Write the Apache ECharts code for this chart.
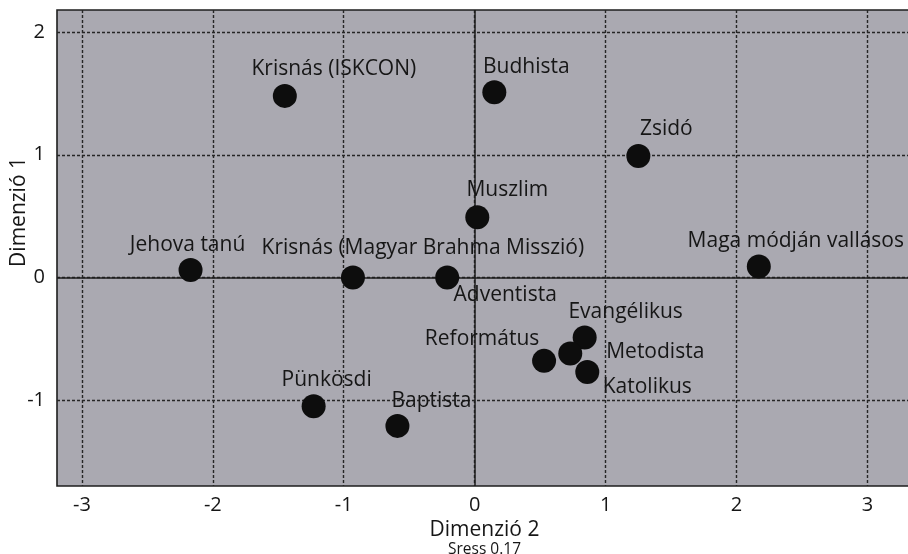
<!DOCTYPE html>
<html>
<head>
<meta charset="utf-8">
<script src="https://cdn.jsdelivr.net/npm/echarts@6/dist/echarts.min.js"></script>
<style>html,body{margin:0;padding:0;background:#fff}#c{width:908px;height:554px}</style>
</head>
<body>
<div id="c"></div>
<script>
const names = ['Krisnás (ISKCON)','Budhista','Zsidó','Muszlim','Jehova tanú','Krisnás (Magyar Brahma Misszió)','Adventista','Maga módján vallásos','Evangélikus','Metodista','Református','Katolikus','Pünkösdi','Baptista'];
const dim2 = [-1.45, 0.15, 1.25, 0.02, -2.17, -0.93, -0.21, 2.17, 0.84, 0.73, 0.53, 0.86, -1.23, -0.59];
const dim1 = [1.48, 1.51, 0.99, 0.49, 0.06, 0.00, 0.00, 0.09, -0.49, -0.62, -0.68, -0.77, -1.05, -1.21];
const xTicks = [-3, -2, -1, 0, 1, 2, 3];
const yTicks = [-1, 0, 1, 2];
const stress = 0.17;

// label placement (style only)
const labelOffsets = {
  'Krisnás (ISKCON)': [49, -27], 'Budhista': [32, -25], 'Zsidó': [28, -27], 'Muszlim': [30, -27],
  'Jehova tanú': [-3, -25], 'Krisnás (Magyar Brahma Misszió)': [70, -29], 'Adventista': [58, 18],
  'Maga módján vallásos': [37, -25], 'Evangélikus': [41, -26], 'Metodista': [85, -1],
  'Református': [-62, -22], 'Katolikus': [60, 15], 'Pünkösdi': [13, -26], 'Baptista': [34, -25]
};

const FONT = 'Open Sans';
const TXT = '#161616';
const chart = echarts.init(document.getElementById('c'), null, {renderer: 'canvas'});
const data = names.map((n, i) => ({
  name: n, value: [dim2[i], dim1[i]],
  label: {offset: labelOffsets[n]}
}));
const gridLine = {show: true, lineStyle: {color: '#262626', width: 1.4, type: [3, 2]}};
chart.setOption({
  animation: false,
  grid: {left: 57, right: -4, top: 10, bottom: 68, show: true, backgroundColor: '#aaa9b1', borderColor: '#1e1e1e', borderWidth: 1.6, containLabel: false, outerBoundsMode: 'none'},
  xAxis: {
    type: 'value', min: -3.19, max: 3.34,
    axisLine: {show: false}, axisTick: {show: false, customValues: xTicks},
    axisLabel: {customValues: xTicks, color: TXT, fontFamily: FONT, fontSize: 20, margin: 9},
    splitLine: gridLine,
    name: 'Dimenzió 2\n{s|Sress ' + stress + '}', nameLocation: 'middle', nameGap: 31,
    nameTextStyle: {color: TXT, fontFamily: FONT, fontSize: 21, lineHeight: 21,
      rich: {s: {fontFamily: FONT, fontSize: 15.5, color: TXT, lineHeight: 17}}}
  },
  yAxis: {
    type: 'value', min: -1.70, max: 2.18,
    axisLine: {show: false}, axisTick: {show: false, customValues: yTicks},
    axisLabel: {customValues: yTicks, color: TXT, fontFamily: FONT, fontSize: 20, margin: 12},
    splitLine: gridLine
  },
  graphic: [{
    type: 'text', left: 9, top: 157, rotation: Math.PI / 2,
    style: {text: 'Dimenzió 1', fill: TXT, font: '21px "Open Sans"'}
  }],
  series: [{
    type: 'scatter', data: data, symbolSize: 24,
    itemStyle: {color: '#0d0d0d', opacity: 1},
    label: {show: true, position: 'inside', formatter: '{b}', color: TXT, fontFamily: FONT, fontSize: 21},
    markLine: {
      silent: true, symbol: 'none', label: {show: false},
      lineStyle: {color: '#1c1c1c', width: 1.5, type: 'solid', opacity: 1},
      data: [{xAxis: 0}, {yAxis: 0}]
    },
    z: 5
  }]
});
</script>
</body>
</html>
